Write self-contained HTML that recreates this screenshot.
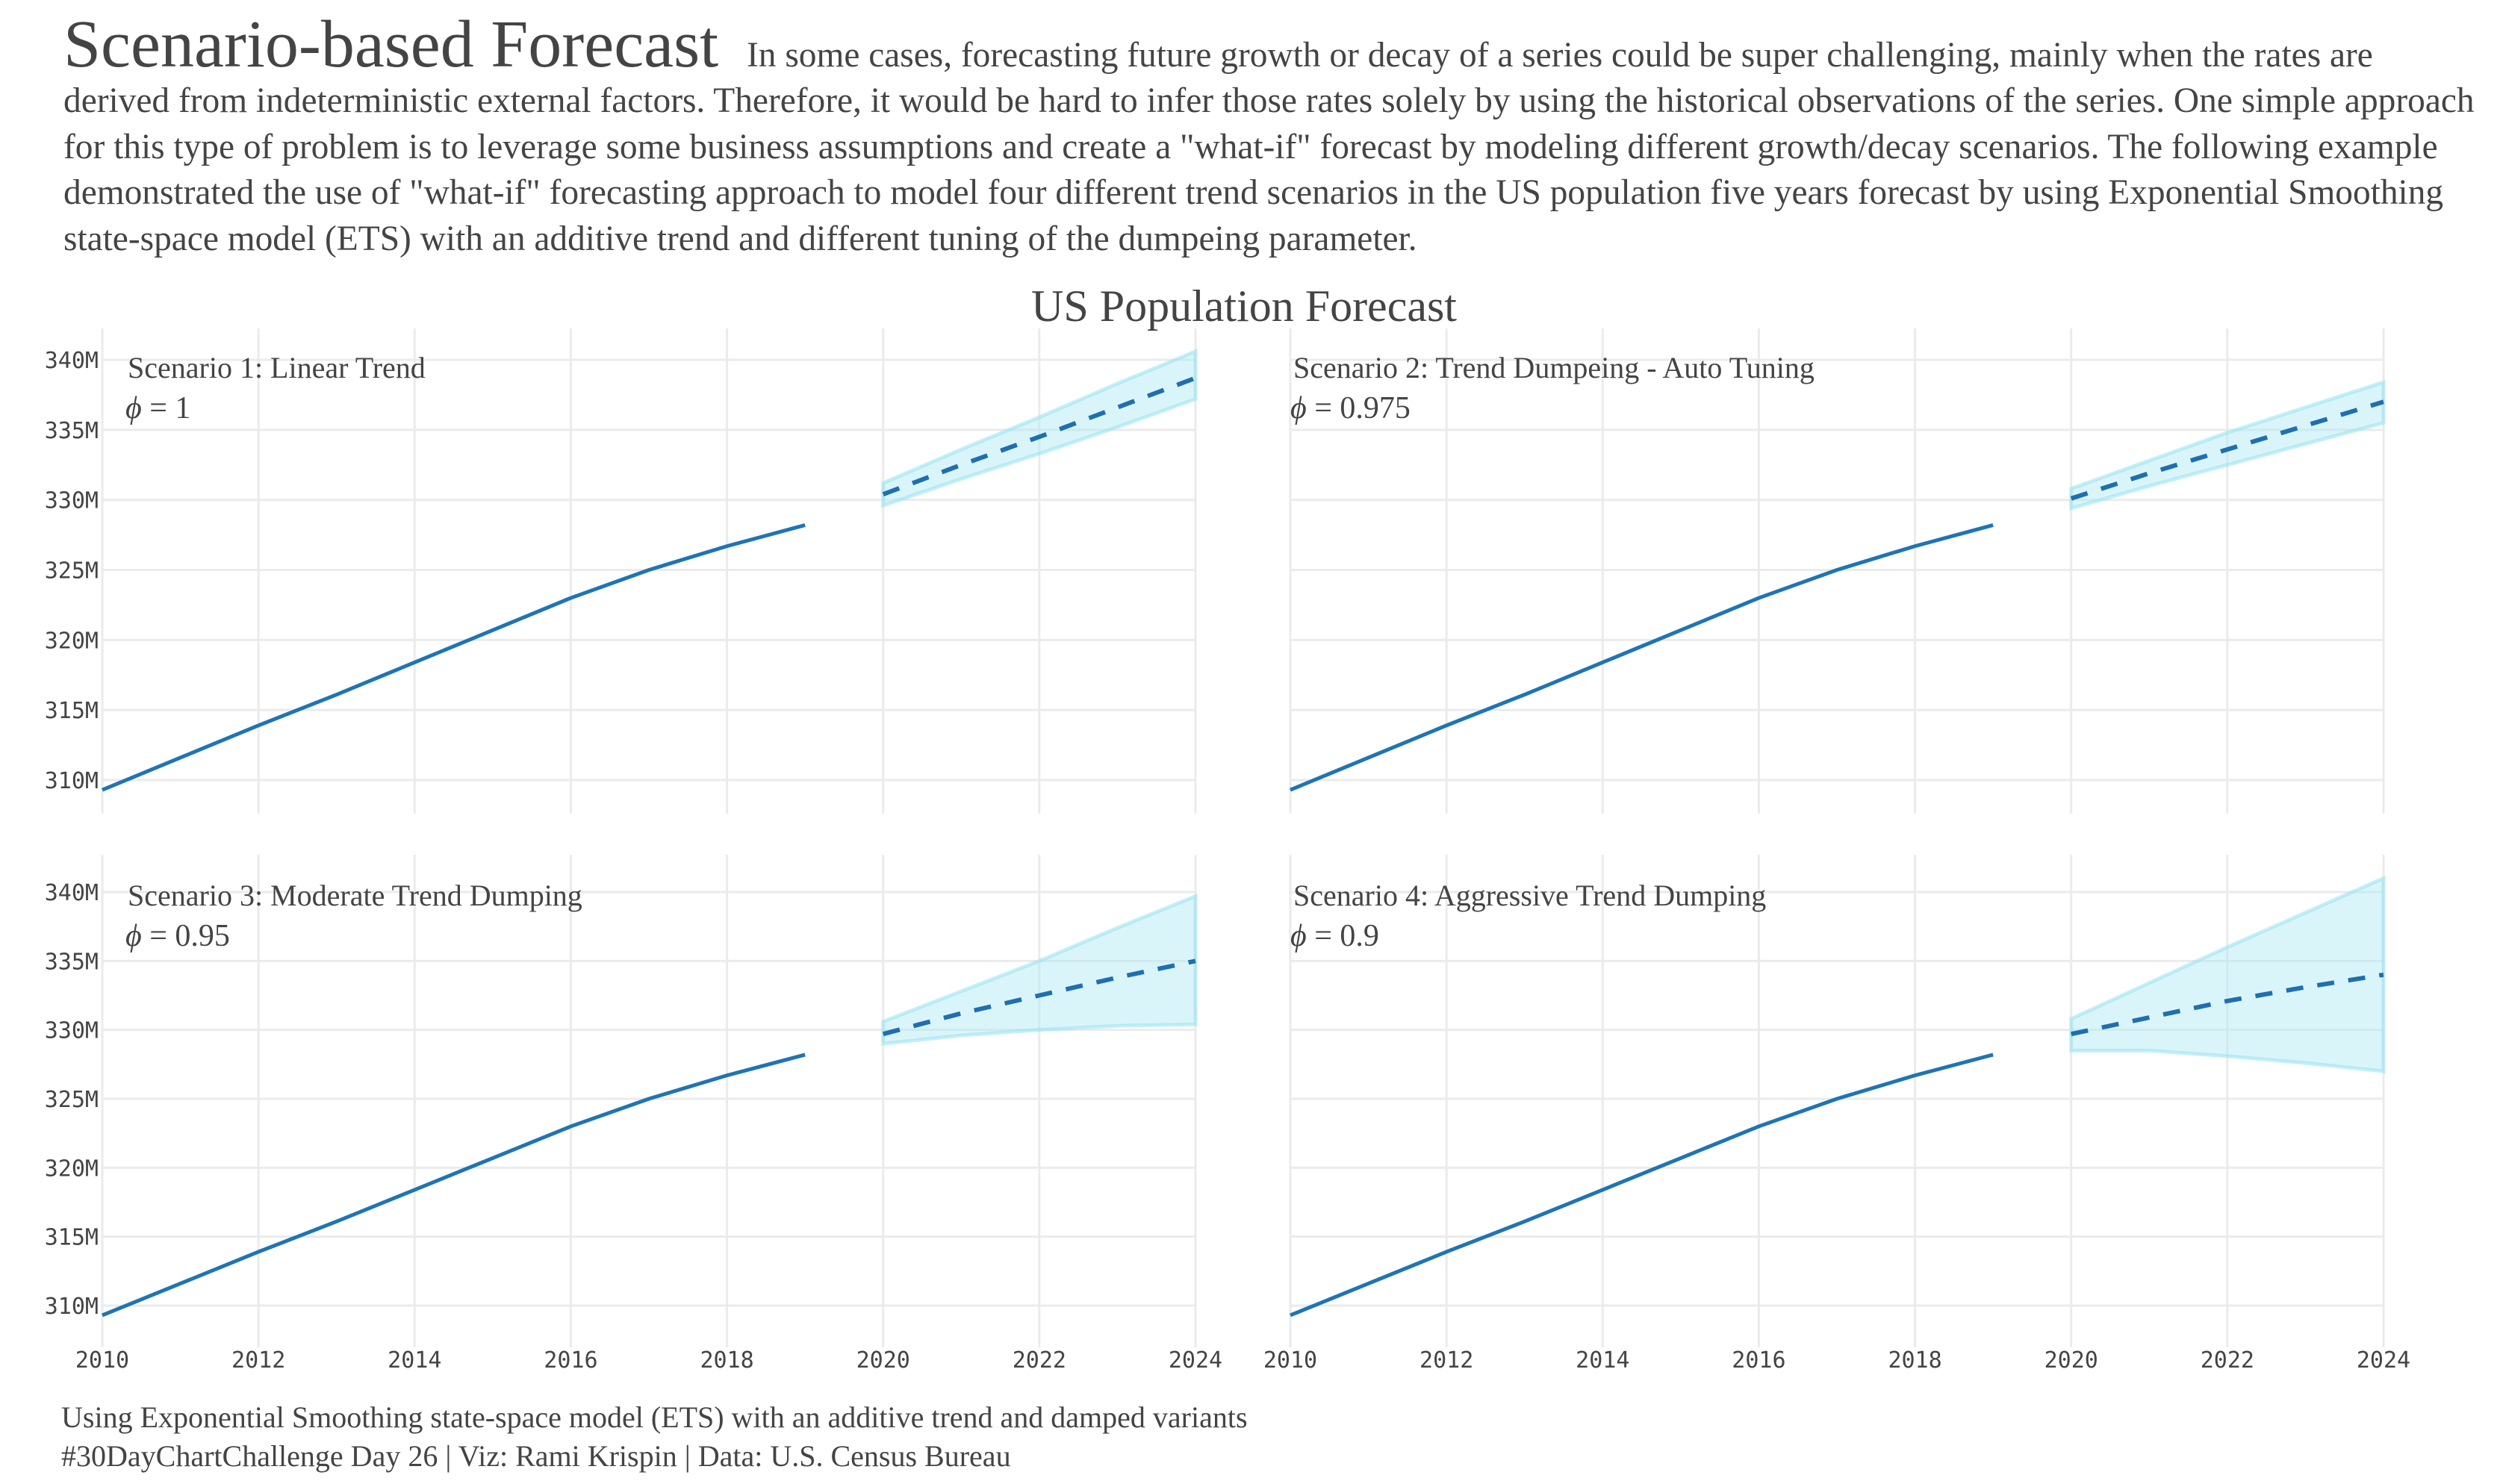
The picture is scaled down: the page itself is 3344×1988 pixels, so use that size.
<!DOCTYPE html>
<html><head><meta charset="utf-8"><style>
html,body{margin:0;padding:0;background:#fff;}
body{width:3344px;height:1988px;overflow:hidden;position:relative;font-family:"Liberation Serif",serif;color:#444;}
.hdr{position:absolute;left:85px;white-space:nowrap;font-size:47.4px;color:#444;}
</style></head><body>
<div class="hdr" style="top:8px;font-size:90px;">Scenario-based Forecast</div>
<div class="hdr" style="left:1000px;top:47px;">In some cases, forecasting future growth or decay of a series could be super challenging, mainly when the rates are</div>
<div class="hdr" style="top:108px;">derived from indeterministic external factors. Therefore, it would be hard to infer those rates solely by using the historical observations of the series. One simple approach</div>
<div class="hdr" style="top:170px;">for this type of problem is to leverage some business assumptions and create a "what-if" forecast by modeling different growth/decay scenarios. The following example</div>
<div class="hdr" style="top:231px;">demonstrated the use of "what-if" forecasting approach to model four different trend scenarios in the US population five years forecast by using Exponential Smoothing</div>
<div class="hdr" style="top:293px;">state-space model (ETS) with an additive trend and different tuning of the dumpeing parameter.</div>
<svg id="chart" width="3344" height="1988" style="position:absolute;left:0;top:0;" xmlns="http://www.w3.org/2000/svg">
<text x="1666" y="430" text-anchor="middle" font-family="Liberation Serif, serif" font-size="60" fill="#444">US Population Forecast</text>
<text x="82" y="1912" font-family="Liberation Serif, serif" font-size="40" fill="#444">Using Exponential Smoothing state-space model (ETS) with an additive trend and damped variants</text>
<text x="82" y="1964" font-family="Liberation Serif, serif" font-size="40" fill="#444">#30DayChartChallenge Day 26 | Viz: Rami Krispin | Data: U.S. Census Bureau</text>
</svg>
<script>
const histYears = [2010,2011,2012,2013,2014,2015,2016,2017,2018,2019];
const histValues = [309.3,311.6,313.9,316.1,318.4,320.7,323.0,325.0,326.7,328.2];
const fcYears = [2020,2021,2022,2023,2024];
const s1Mean = [330.4,332.5,334.5,336.6,338.7];
const s1Upper = [331.2,333.6,335.9,338.3,340.6];
const s1Lower = [329.6,331.5,333.3,335.2,337.2];
const s2Mean = [330.1,331.9,333.6,335.3,337.0];
const s2Upper = [330.8,332.8,334.8,336.6,338.4];
const s2Lower = [329.4,331.0,332.5,334.0,335.5];
const s3Mean = [329.7,331.2,332.5,333.8,335.0];
const s3Upper = [330.6,332.8,335.0,337.4,339.7];
const s3Lower = [329.0,329.6,330.0,330.3,330.4];
const s4Mean = [329.7,330.9,332.1,333.1,334.0];
const s4Upper = [330.8,333.4,336.0,338.5,341.0];
const s4Lower = [328.5,328.5,328.1,327.6,327.0];
const yTicks = [310,315,320,325,330,335,340];
const yTickLabels = ["310M","315M","320M","325M","330M","335M","340M"];
const xTicks = [2010,2012,2014,2016,2018,2020,2022,2024];
const titles = ["Scenario 1: Linear Trend","Scenario 2:  Trend Dumpeing - Auto Tuning","Scenario 3: Moderate Trend Dumping","Scenario 4: Aggressive Trend Dumping"];
const phis = ["1","0.975","0.95","0.9"];

const NS = "http://www.w3.org/2000/svg";
const svg = document.getElementById('chart');
function mk(tag, attrs, parent){ const e=document.createElementNS(NS,tag); for(const k in attrs) e.setAttribute(k,attrs[k]); (parent||svg).appendChild(e); return e; }

const panels = [
 {x0:137,x1:1601,ytop:440,ybot:1090,v340:482,v310:1045,mean:s1Mean,up:s1Upper,lo:s1Lower,ylab:true,xlab:false,ax:171,px:168},
 {x0:1728,x1:3192,ytop:440,ybot:1090,v340:482,v310:1045,mean:s2Mean,up:s2Upper,lo:s2Lower,ylab:false,xlab:false,ax:1732,px:1728},
 {x0:137,x1:1601,ytop:1145,ybot:1805,v340:1195,v310:1749,mean:s3Mean,up:s3Upper,lo:s3Lower,ylab:true,xlab:true,ax:171,px:168},
 {x0:1728,x1:3192,ytop:1145,ybot:1805,v340:1195,v310:1749,mean:s4Mean,up:s4Upper,lo:s4Lower,ylab:false,xlab:true,ax:1732,px:1728}
];

panels.forEach((p,i)=>{
  const g = mk('g',{});
  
  
  const xs = yr => p.x0 + (yr-2010)/(2024-2010)*(p.x1-p.x0);
  const ys = v => p.v310 + (v-310)/(340-310)*(p.v340-p.v310);
  xTicks.forEach(t=>{
    const l = mk('line',{x1:xs(t),x2:xs(t),y1:p.ytop,y2:p.ybot,stroke:'#ebebeb','stroke-width':3},g);
    
    
    if(p.xlab){
      const tx = mk('text',{x:xs(t),y:1832,'text-anchor':'middle','font-family':'DejaVu Sans Mono, Liberation Mono, monospace','font-size':30,fill:'#444'},g);
      tx.textContent = t;
      
      
    }
  });
  yTicks.forEach((t,j)=>{
    const l = mk('line',{x1:p.x0,x2:p.x1,y1:ys(t),y2:ys(t),stroke:'#ebebeb','stroke-width':3},g);
    
    
    if(p.ylab){
      const tx = mk('text',{x:132,y:ys(t)+11,'text-anchor':'end','font-family':'DejaVu Sans Mono, Liberation Mono, monospace','font-size':30,fill:'#444'},g);
      tx.textContent = yTickLabels[j];
      
      
    }
  });
  let d = 'M'+fcYears.map((y,k)=>xs(y)+','+ys(p.up[k])).join(' L');
  d += ' L'+fcYears.slice().reverse().map((y,k)=>xs(y)+','+ys(p.lo[fcYears.length-1-k])).join(' L')+' Z';
  const rib = mk('path',{d:d,fill:'rgba(173,232,243,0.45)',stroke:'rgba(150,225,240,0.55)','stroke-width':5},g);
  
  
  const hist = mk('polyline',{points:histYears.map((y,k)=>xs(y)+','+ys(histValues[k])).join(' '),fill:'none',stroke:'#1f74b4','stroke-width':5},g);
  
  
  const fc = mk('polyline',{points:fcYears.map((y,k)=>xs(y)+','+ys(p.mean[k])).join(' '),fill:'none',stroke:'#1f6fb0','stroke-width':6,'stroke-dasharray':'23 19'},g);
  
  
  const ty = p.ytop===440 ? 506 : 1213;
  const t1 = mk('text',{x:p.ax,y:ty,'font-family':'Liberation Serif, serif','font-size':40,fill:'#444'},g);
  t1.textContent = titles[i];
  
  
  const t2 = mk('text',{x:p.px,y:ty+54,'font-family':'Liberation Serif, serif','font-size':42,fill:'#444'},g);
  const ph = document.createElementNS(NS,'tspan'); ph.setAttribute('font-style','italic'); ph.textContent='\u03d5'; t2.appendChild(ph);
  const rest = document.createElementNS(NS,'tspan'); rest.textContent=' = '+phis[i]; t2.appendChild(rest);
  
  
});
</script>
</body></html>
